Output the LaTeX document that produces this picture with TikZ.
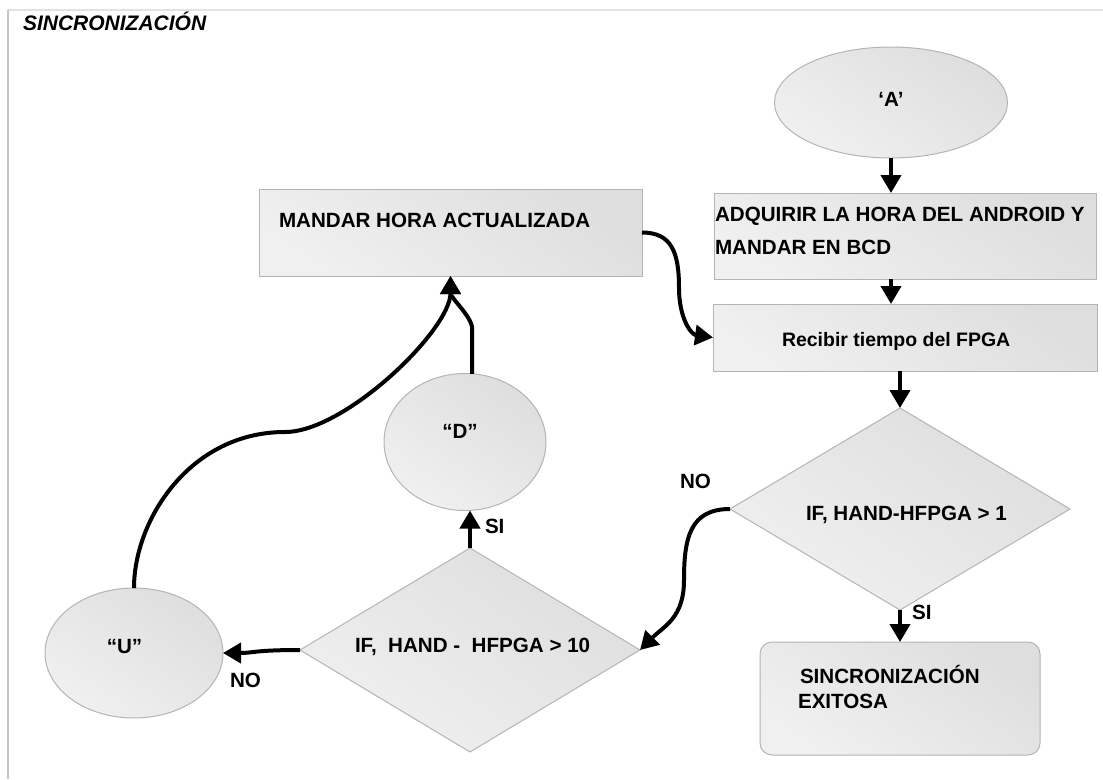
\documentclass[tikz,border=0pt]{standalone}
\usepackage{fontspec}
\setmainfont{Liberation Sans}
\usetikzlibrary{shapes.geometric,arrows.meta,calc}

\definecolor{shapeline}{HTML}{B4B4B4}
\definecolor{shadehi}{HTML}{DEDEDE}
\definecolor{shadelo}{HTML}{F0F0F0}
\definecolor{frameleft}{HTML}{C4C4C4}
\definecolor{frametop}{HTML}{E2E2E2}

\begin{document}
\begin{tikzpicture}[x=0.75pt,y=-0.75pt,
  shapebase/.style={draw=shapeline, line width=0.75pt,
    top color=shadehi, bottom color=shadelo, shading angle=-35,
    inner sep=0pt, outer sep=0pt},
  procbox/.style={shapebase, rectangle},
  endbox/.style={shapebase, rectangle, rounded corners=9pt},
  oval/.style={shapebase, ellipse},
  decision/.style={shapebase, diamond},
  lbl/.style={font=\bfseries\fontsize{15.45}{18}\selectfont, inner sep=0pt, outer sep=0pt},
  lblsmall/.style={font=\bfseries\fontsize{14.6}{18}\selectfont, inner sep=0pt, outer sep=0pt},
  heading/.style={font=\bfseries\itshape\fontsize{15.75}{18}\selectfont, inner sep=0pt, outer sep=0pt},
  flow/.style={line width=3pt, -{Triangle[length=13.5pt,width=15pt]}},
]
\useasboundingbox (0,0) rectangle (1103,779);

% page frame
\draw[frametop, line width=1pt] (8,10) -- (1103,10);
\draw[frameleft, line width=1.5pt] (8,10) -- (8,779);

% title
\node[heading, anchor=base west] (title) at (23,30) {SINCRONIZACIÓN};

% shapes
\node[oval, minimum width=233*0.75pt, minimum height=111*0.75pt] (A) at (891,102.5) {};
\node[procbox, minimum width=382*0.75pt, minimum height=86*0.75pt] (adq) at (905,236) {};
\node[procbox, minimum width=384*0.75pt, minimum height=67*0.75pt] (rec) at (905,337.5) {};
\node[decision, minimum width=340*0.75pt, minimum height=202*0.75pt] (d1) at (900,509) {};
\node[endbox, minimum width=280*0.75pt, minimum height=113*0.75pt] (exit) at (900,698.5) {};
\node[procbox, minimum width=383*0.75pt, minimum height=87*0.75pt] (mandar) at (450.5,232.5) {};
\node[oval, minimum width=162*0.75pt, minimum height=137*0.75pt] (D) at (465,442) {};
\node[decision, minimum width=340*0.75pt, minimum height=204*0.75pt] (d2) at (470,650) {};
\node[oval, minimum width=178*0.75pt, minimum height=130*0.75pt] (U) at (134,653) {};

% texts
\node[lbl, anchor=base] (Atxt) at (891,106) {‘A’};
\node[lbl, anchor=base west] (adqtxt1) at (715,221) {ADQUIRIR LA HORA DEL ANDROID Y};
\node[lbl, anchor=base west] (adqtxt2) at (715,254) {MANDAR EN BCD};
\node[lblsmall, anchor=base west] (rectxt) at (782,346) {Recibir tiempo del FPGA};
\node[lbl, anchor=base west] (d1txt) at (806,520) {IF, HAND-HFPGA > 1};
\node[lbl, anchor=base west] (exittxt1) at (800,683) {SINCRONIZACIÓN};
\node[lbl, anchor=base west] (exittxt2) at (798,708) {EXITOSA};
\node[lbl, anchor=base west] (mandartxt) at (279,227) {MANDAR HORA ACTUALIZADA};
\node[lbl, anchor=base] (Dtxt) at (460,438) {“D”};
\node[lbl, anchor=base west] (d2txt) at (355,652) {IF,\ \ HAND -\ \ HFPGA > 10};
\node[lbl, anchor=base] (Utxt) at (124.5,653) {“U”};

% branch labels
\node[lbl, anchor=base west] (no1) at (680,488) {NO};
\node[lbl, anchor=base west] (si1) at (912,619) {SI};
\node[lbl, anchor=base west] (no2) at (230,687) {NO};
\node[lbl, anchor=base west] (si2) at (485,533) {SI};

% waypoints of the curved connectors
\coordinate (w1) at (684,580);
\coordinate (w2) at (285,432);
\coordinate (w3) at (679,288);

% connectors
\draw[flow] (A.south) -- (A.south |- adq.north);
\draw[flow] (adq.south -| A.south) -- (A.south |- rec.north);
\draw[flow] (rec.south -| d1.north) -- (d1.north);
\draw[flow] (d1.south) -- (d1.south |- exit.north);
\draw[flow] (d1.west) .. controls +(-40,0) and +(0,-42) .. (w1)
                      .. controls +(0,38) and +(24,-24) .. (d2.east);
\draw[flow] (d2.west) .. controls +(-45,0) and +(30,0) .. (U.east);
\draw[flow] (d2.north) -- (d2.north |- D.south);
\draw[flow] (D.84) -- ++(0,-45) .. controls +(0,-12) and +(0,22) .. (mandar.south);
\draw[flow] (U.north) .. controls +(0,-68) and +(-95,0) .. (w2)
                      .. controls +(60,0) and +(0,54) .. (mandar.south);
\draw[flow] (mandar.east) .. controls +(30,0) and +(0,-35) .. (w3)
                          .. controls +(0,30) and +(-22,-3) .. (rec.west);
\end{tikzpicture}
\end{document}
